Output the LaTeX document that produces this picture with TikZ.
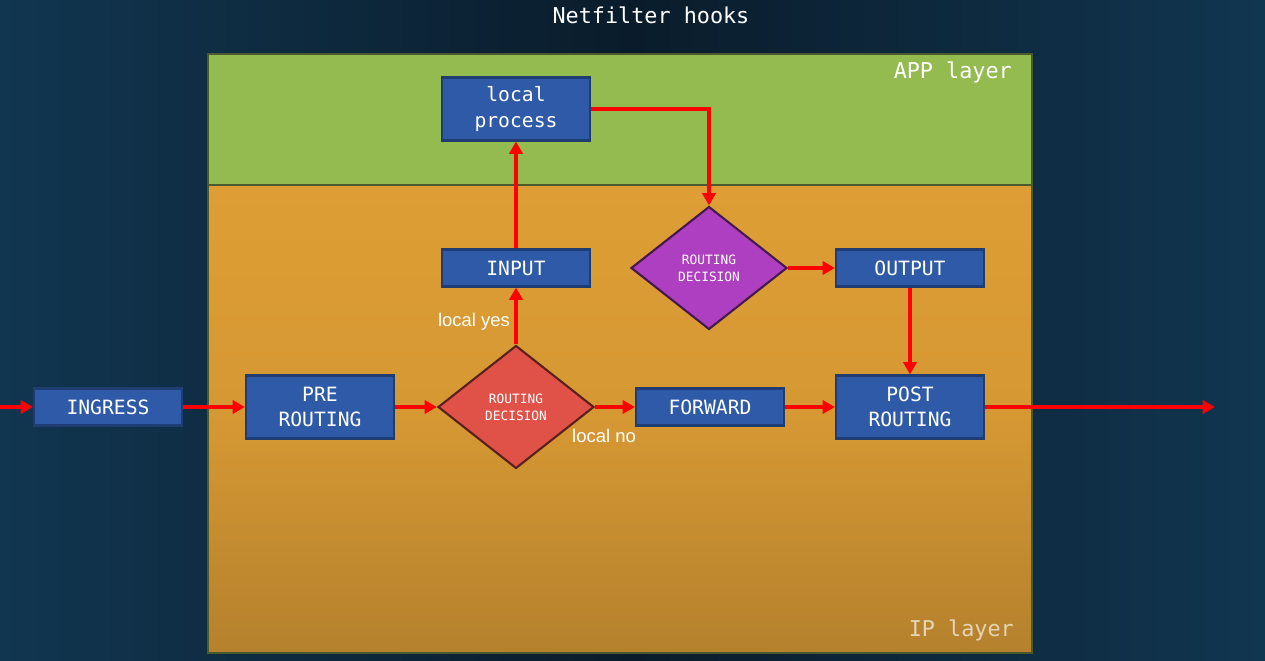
\documentclass[tikz,border=0pt]{standalone}
\usepackage{fontspec}
\setmonofont{DejaVu Sans Mono}
\setsansfont{Liberation Sans}
\usetikzlibrary{arrows.meta,positioning,shapes.geometric}
\definecolor{bgNight}{HTML}{0A1C2B}
\definecolor{bgEdge}{HTML}{113650}
\definecolor{appGreen}{HTML}{93BB4F}
\definecolor{ipOrange}{HTML}{DE9E35}
\definecolor{ipDark}{HTML}{B5812D}
\definecolor{panelRule}{HTML}{4B5A2C}
\definecolor{hookBlue}{HTML}{2E5AA8}
\definecolor{hookRule}{HTML}{1F3D73}
\definecolor{decRed}{HTML}{E05148}
\definecolor{decPurple}{HTML}{AD3FC0}
\definecolor{flowRed}{HTML}{FF0000}

\begin{document}
\begin{tikzpicture}[x=0.02cm,y=-0.02cm,
    hook/.style={draw=hookRule,line width=1.2pt,fill=hookBlue,
                 text=white,align=center,inner sep=2pt,
                 minimum width=2.96cm,minimum height=0.74cm,
                 font=\ttfamily\fontsize{11.2}{14.5}\selectfont},
    tallhook/.style={hook,minimum height=1.26cm},
    decision/.style={diamond,draw=#1!40!black,line width=1.2pt,fill=#1,
                     text=white,align=center,inner sep=0pt,
                     minimum width=3.12cm,minimum height=2.46cm,
                     font=\ttfamily\fontsize{7.3}{9.5}\selectfont},
    flow/.style={draw=flowRed,line width=2.3pt,
                 -{Triangle[length=7pt,width=7.5pt]}},
    layertag/.style={text=white,font=\ttfamily\fontsize{12.4}{14}\selectfont},
    branch/.style={text=white,font=\sffamily\fontsize{10.5}{12}\selectfont}]
  \useasboundingbox (0,0) rectangle (1265,661);
  % backdrop and layers
  \shade[left color=bgEdge,right color=bgEdge,middle color=bgNight]
    (0,0) rectangle (1265,661);
  \shade[draw=panelRule,line width=1pt,top color=ipOrange,
         bottom color=ipDark,middle color=ipOrange!96!black]
    (208,185) rectangle (1032,653);
  \filldraw[draw=panelRule,line width=1.5pt,fill=appGreen]
    (208,54) rectangle (1032,185);
  \node[text=white,font=\ttfamily\fontsize{12.4}{14}\selectfont]
    (title) at (651,15) {Netfilter hooks};
  \node[layertag,anchor=east] (app) at (1018,72) {APP layer};
  \node[layertag,anchor=east,text opacity=0.65] (ip) at (1020,630) {IP layer};
  % hooks
  \node[tallhook] (lp) at (516,109) {local\\process};
  \node[hook] (in) at (516,268) {INPUT};
  \node[hook] (outp) at (910,268) {OUTPUT};
  \node[hook] (ing) at (108,407) {INGRESS};
  \node[tallhook] (pre) at (320,407) {PRE\\ROUTING};
  \node[hook] (fwd) at (710,407) {FORWARD};
  \node[tallhook] (post) at (910,407) {POST\\ROUTING};
  \node[decision=decRed] (rd) at (516,407) {ROUTING\\DECISION};
  \node[decision=decPurple] (rdo) at (709,268) {ROUTING\\DECISION};
  \coordinate (src) at (0,407);
  \coordinate (dst) at (1215,407);
  % flows
  \draw[flow] (src) -- (ing);
  \draw[flow] (ing) -- (pre);
  \draw[flow] (pre) -- (rd);
  \draw[flow] (rd) -- (fwd);
  \draw[flow] (fwd) -- (post);
  \draw[flow] (post) -- (dst);
  \draw[flow] (rd) -- (in);
  \draw[flow] (in) -- (lp);
  \draw[flow] (lp.east) -| (rdo.north);
  \draw[flow] (rdo) -- (outp);
  \draw[flow] (outp) -- (post);
  \node[branch] (yes) at (474,322) {local yes};
  \node[branch] (no) at (604,436) {local no};
\end{tikzpicture}
\end{document}
